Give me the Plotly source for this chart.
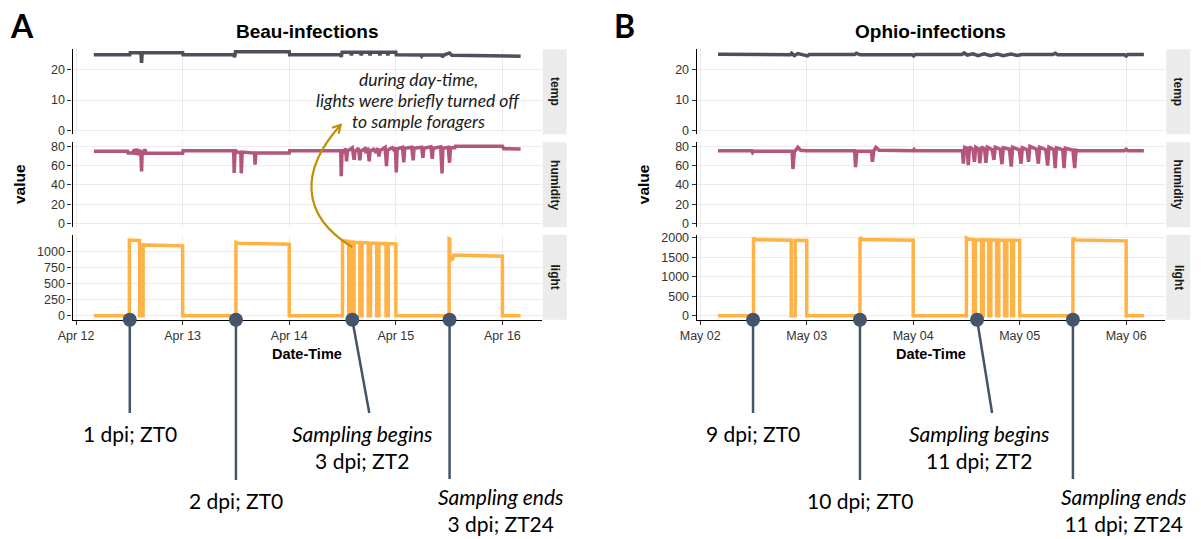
import plotly.graph_objects as go
import pandas as pd

W, H = 1201, 539

# ----------------- data: (hours after midnight of first day, value) -----------------
base_A = "2021-04-12"
base_B = "2021-05-02"

temp_A = [(4.0, 25.0), (12.1, 25.0), (12.2, 25.7), (14.6, 25.7), (14.75, 22.3), (14.9, 25.7),
          (24.0, 25.7), (24.1, 25.0), (35.5, 25.0), (35.7, 24.2), (35.9, 26.0), (48.0, 26.0),
          (48.1, 25.0), (59.5, 25.0), (59.7, 24.3), (59.9, 25.8), (61.8, 25.8), (62.0, 24.8),
          (62.2, 25.8), (64.0, 25.8), (64.2, 24.8), (64.4, 25.8), (66.0, 25.8), (66.2, 24.8),
          (66.4, 25.8), (68.2, 25.8), (68.4, 24.8), (68.6, 25.8), (70.0, 25.8), (70.2, 24.8),
          (70.4, 25.8), (72.0, 25.8), (72.1, 25.0), (77.6, 24.9), (77.8, 24.5), (78.0, 24.9),
          (82.3, 24.9), (82.5, 24.2), (82.8, 24.9), (84.1, 25.6), (84.6, 24.8), (96.0, 24.7),
          (96.1, 24.5), (100.1, 24.5)]

hum_A = [(4.0, 75.0), (11.6, 75.0), (11.7, 73.2), (12.8, 73.2), (13.1, 77.0), (13.4, 71.5),
         (13.7, 77.5), (14.0, 71.0), (14.3, 76.5), (14.6, 72.0), (14.75, 54.0), (14.9, 76.0),
         (15.2, 71.5), (15.5, 77.0), (15.8, 73.0), (24.0, 72.8), (24.1, 75.5), (35.5, 75.5),
         (35.6, 52.5), (35.8, 76.0), (36.5, 73.5), (37.1, 73.5), (37.2, 52.0), (37.4, 74.0),
         (40.2, 73.0), (40.3, 61.0), (40.5, 73.0), (48.0, 73.0), (48.1, 75.5), (59.6, 75.5),
         (59.7, 49.0), (59.9, 76.0), (60.4, 74.5), (60.7, 78.0), (60.9, 64.5), (61.1, 75.0),
         (62.2, 78.5), (62.6, 66.0), (62.8, 74.5), (63.6, 78.0), (63.9, 65.5), (64.1, 75.0),
         (65.0, 77.5), (65.3, 73.0), (65.7, 78.5), (66.0, 64.5), (66.2, 75.0), (67.0, 77.0),
         (67.5, 73.5), (67.9, 78.0), (68.2, 69.5), (68.4, 75.5), (69.6, 79.0), (69.9, 59.5),
         (70.1, 76.0), (71.2, 78.5), (71.6, 76.0), (71.9, 79.0), (72.1, 53.0), (72.3, 77.5),
         (73.5, 79.0), (73.8, 63.5), (74.0, 78.0), (75.6, 79.0), (75.9, 65.5), (76.1, 78.0),
         (77.8, 79.0), (78.1, 68.0), (78.3, 78.0), (79.9, 79.5), (80.2, 67.0), (80.4, 78.0),
         (82.1, 79.5), (82.4, 52.0), (82.6, 78.0), (83.8, 79.0), (84.1, 63.0), (84.3, 78.5),
         (85.3, 78.5), (85.4, 80.2), (96.0, 80.0), (96.3, 77.5), (100.1, 77.3)]

light_A = [(4.0, 5), (12.0, 5), (12.0, 1175), (14.3, 1170), (14.3, 5), (15.1, 5), (15.1, 1100),
           (24.0, 1085), (24.0, 5), (36.0, 5), (36.0, 1140), (36.5, 1125), (48.0, 1110), (48.0, 5),
           (60.0, 5), (60.0, 1165), (61.4, 1155), (61.4, 5), (61.9, 5), (61.9, 1145), (62.3, 1145),
           (62.3, 5), (62.6, 5), (62.6, 1140), (63.9, 1138), (63.9, 5), (64.4, 5), (64.4, 1135),
           (65.8, 1132), (65.8, 5), (66.3, 5), (66.3, 1130), (67.7, 1128), (67.7, 5), (68.2, 5),
           (68.2, 1125), (69.8, 1122), (69.8, 5), (70.3, 5), (70.3, 1120), (72.0, 1115), (72.0, 5),
           (84.0, 5), (84.0, 1195), (84.15, 1190), (84.2, 860), (84.8, 880), (85.1, 945),
           (90.0, 935), (96.0, 925), (96.0, 5), (100.1, 5)]

temp_B = [(4.0, 25.2), (11.8, 25.2), (12.0, 25.0), (20.3, 25.0), (20.6, 25.5), (21.2, 24.7),
          (22.0, 25.4), (24.2, 24.6), (24.6, 25.1), (34.8, 25.1), (35.2, 25.5), (36.0, 25.0),
          (47.8, 25.0), (48.1, 24.6), (48.5, 25.1), (59.0, 25.1), (59.5, 25.6), (60.2, 24.9),
          (61.5, 25.3), (62.6, 24.7), (64.0, 25.3), (65.4, 24.7), (67.0, 25.2), (68.3, 24.7),
          (70.0, 25.2), (71.5, 24.8), (72.5, 25.1), (79.5, 25.1), (80.0, 25.5), (80.6, 25.0),
          (95.6, 25.0), (96.0, 24.6), (96.4, 25.1), (100.0, 25.1)]

hum_B = [(4.0, 75.5), (11.6, 75.5), (11.8, 73.5), (12.1, 75.0), (20.7, 75.0), (20.9, 56.5),
         (21.2, 74.0), (22.0, 79.0), (22.6, 76.0), (24.0, 75.5), (34.8, 75.5), (35.0, 58.5),
         (35.3, 75.0), (38.6, 75.0), (38.8, 64.0), (39.1, 75.0), (39.6, 79.0), (40.3, 76.0),
         (48.0, 75.5), (48.2, 76.8), (48.5, 75.5), (59.1, 75.5), (59.3, 62.0), (59.6, 79.0),
         (60.2, 78.0), (60.4, 60.5), (60.7, 79.5), (61.5, 76.5), (61.8, 64.0), (62.1, 79.0),
         (62.8, 77.0), (63.0, 62.5), (63.4, 79.5), (64.1, 77.0), (64.4, 63.0), (64.7, 79.0),
         (65.8, 76.5), (66.2, 66.0), (66.5, 79.0), (67.6, 77.0), (68.0, 61.5), (68.3, 78.5),
         (69.7, 77.0), (70.1, 59.0), (70.4, 79.0), (71.9, 76.5), (72.3, 62.0), (72.6, 78.5),
         (73.7, 76.5), (74.0, 64.0), (74.3, 80.0), (75.8, 77.0), (76.2, 62.0), (76.5, 79.0),
         (77.9, 76.5), (78.3, 60.0), (78.6, 79.0), (79.7, 76.5), (80.0, 57.5), (80.3, 78.5),
         (81.7, 76.5), (82.0, 57.5), (82.3, 78.0), (84.0, 76.0), (84.4, 57.5), (84.7, 76.0),
         (85.2, 75.5), (95.6, 75.5), (96.0, 77.0), (96.4, 75.5), (100.0, 75.5)]

light_B = [(4.0, 5), (12.0, 5), (12.0, 2000), (12.5, 1950), (20.5, 1935), (20.5, 5), (21.4, 5),
           (21.4, 1935), (24.0, 1930), (24.0, 5), (36.0, 5), (36.0, 2005), (36.6, 1955),
           (48.0, 1935), (48.0, 5), (60.0, 5), (60.0, 1995), (60.6, 1960), (61.6, 1950),
           (61.6, 5), (62.0, 5), (62.0, 1945), (63.4, 1945), (63.4, 5), (63.8, 5), (63.8, 1945),
           (65.0, 1942), (65.0, 5), (65.5, 5), (65.5, 1940), (66.8, 1940), (66.8, 5), (67.3, 5),
           (67.3, 1940), (68.6, 1938), (68.6, 5), (69.1, 5), (69.1, 1938), (70.2, 1935), (70.2, 5),
           (70.6, 5), (70.6, 1935), (72.0, 1932), (72.0, 5), (84.0, 5), (84.0, 1990),
           (84.6, 1945), (96.0, 1920), (96.0, 5), (100.0, 5)]

events_A_h = [12.1, 36.0, 62.2, 84.1]
events_B_h = [11.9, 36.0, 62.4, 84.0]
labels_A = ["1 dpi; ZT0", "2 dpi; ZT0", "<i>Sampling begins</i><br>3 dpi; ZT2",
            "<i>Sampling ends</i><br>3 dpi; ZT24"]
labels_B = ["9 dpi; ZT0", "10 dpi; ZT0", "<i>Sampling begins</i><br>11 dpi; ZT2",
            "<i>Sampling ends</i><br>11 dpi; ZT24"]

variables = ["temp", "humidity", "light"]
titles = {"A": "Beau-infections", "B": "Ophio-infections"}
series = {"A": {"temp": temp_A, "humidity": hum_A, "light": light_A},
          "B": {"temp": temp_B, "humidity": hum_B, "light": light_B}}
bases = {"A": base_A, "B": base_B}
yticks = {"A": {"temp": [0, 10, 20], "humidity": [0, 20, 40, 60, 80], "light": [0, 250, 500, 750, 1000]},
          "B": {"temp": [0, 10, 20], "humidity": [0, 20, 40, 60, 80], "light": [0, 500, 1000, 1500, 2000]}}
yranges = {"A": {"temp": [-1.3, 26.8], "humidity": [-4.0, 84.2], "light": [-58, 1258]},
           "B": {"temp": [-1.3, 26.8], "humidity": [-4.0, 84.2], "light": [-99, 2078]}}

# ----------------- styling / layout (pixels) -----------------
colors = {"temp": "#4F4F5C", "humidity": "#B4557E", "light": "#FFB347"}
X_DOM = {"A": (72.5, 541.5), "B": (696.7, 1165.2)}
ROW_DOM = [(49.3, 134.3), (142.3, 227.3), (234.7, 319.7)]
STRIP_X = {"A": (542.7, 566.7), "B": (1166.3, 1190.3)}
XR_H = (-0.8, 104.8)
CALLOUT = "#44546A"
TICKFONT = dict(family="Liberation Sans, Arial, sans-serif", size=12.5, color="#333333")
NOTEFONT = "Lato, Open Sans, sans-serif"

line_end_y = [413, 480, 413, 479]
line_end_dx = {"A": [0, 0, 17, 0], "B": [0, 0, 15, 0]}
text_dx = {"A": [0, 0, 10, 51], "B": [0, 0, 2, 51]}
text_y = [433, 500, 446.5, 510]


def px(x):
    return x / W


def py(y):
    return 1 - y / H


def to_dates(base, hours):
    b = pd.Timestamp(base)
    return [(b + pd.Timedelta(hours=h)).strftime("%Y-%m-%d %H:%M:%S") for h in hours]


fig = go.Figure()
layout = dict(width=W, height=H, margin=dict(l=0, r=0, t=0, b=0), template="none",
              paper_bgcolor="white", plot_bgcolor="white", showlegend=False)
shapes, annotations = [], []

for p_i, panel in enumerate(["A", "B"]):
    x0p, x1p = X_DOM[panel]
    hpp = (XR_H[1] - XR_H[0]) / (x1p - x0p)  # hours per pixel
    xr = to_dates(bases[panel], XR_H)
    ticks = to_dates(bases[panel], [0, 24, 48, 72, 96])
    for r_i, var in enumerate(variables):
        idx = p_i * 3 + r_i + 1
        sfx = "" if idx == 1 else str(idx)
        pts = series[panel][var]
        fig.add_trace(go.Scatter(
            x=to_dates(bases[panel], [p[0] for p in pts]), y=[p[1] for p in pts],
            mode="lines", line=dict(color=colors[var], width=3.5),
            xaxis="x" + sfx, yaxis="y" + sfx, hoverinfo="skip"))
        top, bot = ROW_DOM[r_i]
        is_bottom = var == "light"
        layout["xaxis" + sfx] = dict(
            domain=[px(x0p), px(x1p)], range=xr, type="date", anchor="y" + sfx,
            tickvals=ticks, tickformat="%b %d", showticklabels=is_bottom,
            ticks="outside" if is_bottom else "", ticklen=4, tickcolor="#333333",
            tickfont=TICKFONT, showgrid=True, gridcolor="#EBEBEB", gridwidth=1,
            zeroline=False, showline=is_bottom, linecolor="black", linewidth=1.3,
            layer="below traces")
        layout["yaxis" + sfx] = dict(
            domain=[py(bot), py(top)], range=yranges[panel][var], anchor="x" + sfx,
            tickvals=yticks[panel][var], ticks="outside", ticklen=4, tickcolor="#333333",
            tickfont=TICKFONT, showgrid=True, gridcolor="#EBEBEB", gridwidth=1,
            zeroline=False, showline=True, linecolor="black", linewidth=1.3,
            layer="below traces")
        # facet strip
        sx0, sx1 = STRIP_X[panel]
        shapes.append(dict(type="rect", xref="paper", yref="paper", x0=px(sx0), x1=px(sx1),
                           y0=py(bot), y1=py(top), fillcolor="#EBEBEB", line=dict(width=0),
                           layer="below"))
        annotations.append(dict(text="<b>%s</b>" % var, x=px((sx0 + sx1) / 2), y=py((top + bot) / 2),
                                xref="paper", yref="paper", showarrow=False, textangle=90,
                                font=dict(family="Liberation Sans, Arial", size=12, color="#1A1A1A"),
                                xanchor="center", yanchor="middle"))

    # event dots & callouts (on the light subplot)
    lidx = p_i * 3 + 3
    xa = "x%d" % lidx
    ya = "y%d" % lidx
    ev_h = events_A_h if panel == "A" else events_B_h
    labs = labels_A if panel == "A" else labels_B
    fig.add_trace(go.Scatter(x=to_dates(bases[panel], ev_h), y=[yranges[panel]["light"][0]] * len(ev_h),
                             mode="markers", marker=dict(size=14, color=CALLOUT),
                             xaxis=xa, yaxis=ya, cliponaxis=False, hoverinfo="skip"))
    for k, h in enumerate(ev_h):
        xs = to_dates(bases[panel], [h, h + line_end_dx[panel][k] * hpp, h + text_dx[panel][k] * hpp])
        shapes.append(dict(type="line", xref=xa, yref="paper", x0=xs[0], x1=xs[1],
                           y0=py(ROW_DOM[2][1]), y1=py(line_end_y[k]),
                           line=dict(color=CALLOUT, width=2.5), layer="below"))
        annotations.append(dict(text=labs[k], x=xs[2], y=py(text_y[k]), xref=xa, yref="paper",
                                showarrow=False, xanchor="center", yanchor="middle", align="center",
                                font=dict(family=NOTEFONT, size=21, color="black")))

    cx = (x0p + x1p) / 2
    annotations.append(dict(text="<b>%s</b>" % titles[panel], x=px(cx), y=py(31), xref="paper",
                            yref="paper", showarrow=False, xanchor="center", yanchor="middle",
                            font=dict(family="Liberation Sans, Arial", size=19, color="black")))
    annotations.append(dict(text="<b>Date-Time</b>", x=px(cx), y=py(354), xref="paper",
                            yref="paper", showarrow=False, xanchor="center", yanchor="middle",
                            font=dict(family="Liberation Sans, Arial", size=14.5, color="black")))
    annotations.append(dict(text="<b>value</b>", x=px(x0p - 53), y=py(184.5), xref="paper",
                            yref="paper", showarrow=False, xanchor="center", yanchor="middle",
                            textangle=-90,
                            font=dict(family="Liberation Sans, Arial", size=15.5, color="black")))
    annotations.append(dict(text="<b>%s</b>" % panel, x=px(22 if panel == "A" else 624), y=py(26),
                            xref="paper", yref="paper", showarrow=False, xanchor="center",
                            yanchor="middle", font=dict(family=NOTEFONT, size=32, color="black")))

# italic note + curved arrow (panel A)
note_lines = ["during day-time,", "lights were briefly turned off", "to sample foragers"]
for j, (t, yy) in enumerate(zip(note_lines, [79, 100, 121])):
    annotations.append(dict(text="<i>%s</i>" % t, x=px(418), y=py(yy), xref="paper", yref="paper",
                            showarrow=False, xanchor="center", yanchor="middle",
                            font=dict(family=NOTEFONT, size=17.5, color="#1A1A1A")))


def P(x, y):
    return "%.5f,%.5f" % (px(x), py(y))


shapes.append(dict(type="path", xref="paper", yref="paper",
                   path="M %s C %s %s %s" % (P(352, 247), P(300, 215), P(300, 170), P(340.6, 125)),
                   line=dict(color="#BF9000", width=2.2)))
shapes.append(dict(type="path", xref="paper", yref="paper",
                   path="M %s L %s L %s" % (P(332, 127.8), P(340.6, 125), P(338.7, 133.8)),
                   line=dict(color="#BF9000", width=2.2)))

layout["shapes"] = shapes
layout["annotations"] = annotations
fig.update_layout(**layout)
fig.write_html("out.html", config={"displayModeBar": False},
               post_script="document.body.style.margin='0px';"
                           "document.documentElement.style.overflow='hidden';")
